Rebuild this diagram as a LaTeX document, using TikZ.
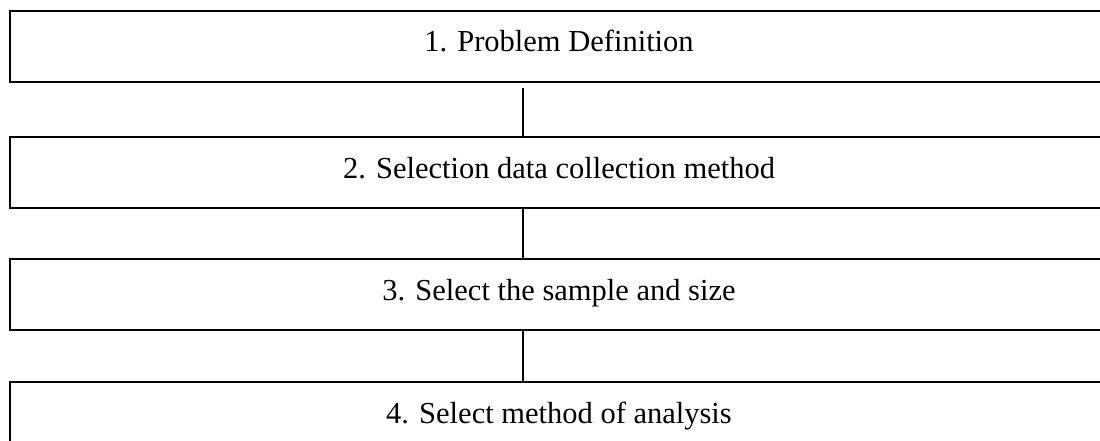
\documentclass[tikz,border=0pt]{standalone}
\usepackage{fontspec}
\setmainfont{Liberation Serif}
\begin{document}
\begin{tikzpicture}[x=1pt,y=-1pt,
  stagebox/.style={draw=black,line width=1.8pt,minimum width=1101pt,minimum height=71pt,anchor=north west,inner sep=0pt},
  stagelabel/.style={font=\fontsize{30.5}{34}\selectfont,inner sep=0pt,anchor=base},
  link/.style={draw=black,line width=1.6pt}]
\clip (0,0) rectangle (1100,441);
\node[stagebox] (b1) at (9,10) {};
\node[stagebox] (b2) at (9,136) {};
\node[stagebox] (b3) at (9,258) {};
\node[stagebox] (b4) at (9,381) {};
\node[stagelabel] (t1) at (559,52) {1. Problem Definition};
\node[stagelabel] (t2) at (559,178) {2. Selection data collection method};
\node[stagelabel] (t3) at (559,300) {3. Select the sample and size};
\node[stagelabel] (t4) at (559,423) {4. Select method of analysis};
\coordinate (c1) at (523,88);
\path[link] (c1) -- (c1 |- b2.north);
\path[link] (b2.south -| 523,0) -- (b3.north -| 523,0);
\path[link] (b3.south -| 523,0) -- (b4.north -| 523,0);
\end{tikzpicture}
\end{document}
